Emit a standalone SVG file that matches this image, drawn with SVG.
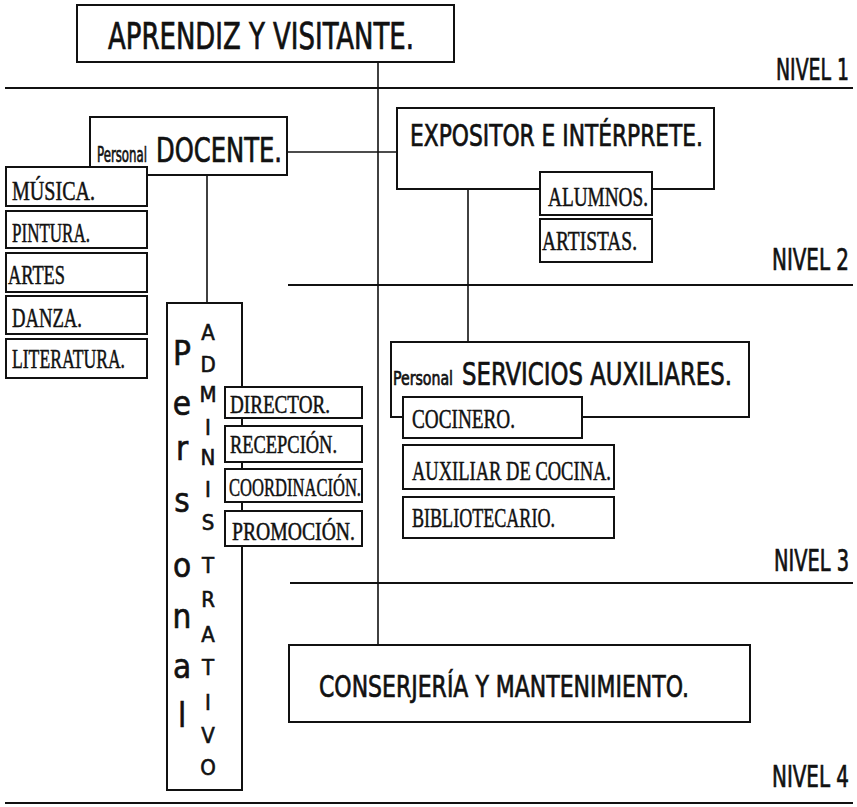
<svg xmlns="http://www.w3.org/2000/svg" width="857" height="807" viewBox="0 0 857 807">
<style>
.bx{fill:#fff;stroke:#111;stroke-width:2}
.ln{stroke:#111;stroke-width:2;fill:none}
.cn{stroke:#111;stroke-width:1.6;fill:none}
.s{font-family:'DejaVu Sans Condensed','DejaVu Sans',sans-serif;fill:#111;stroke:#111;stroke-width:0.7}
.r{font-family:'Liberation Serif',serif;fill:#111;stroke:#111;stroke-width:0.5}
.big{font-family:'DejaVu Sans Condensed','DejaVu Sans',sans-serif;fill:#111;stroke:#111;stroke-width:0.6;font-size:33px;text-anchor:middle}
.sm{font-family:'DejaVu Sans Condensed','DejaVu Sans',sans-serif;fill:#111;stroke:#111;stroke-width:0.6;font-size:22px;text-anchor:middle}
</style>
<rect width="857" height="807" fill="#fff"/>
<g id="levels">
<line class="ln" x1="5" y1="88" x2="853" y2="88"/>
<line class="ln" x1="288" y1="285" x2="853" y2="285"/>
<line class="ln" x1="290" y1="583" x2="853" y2="583"/>
<line class="ln" x1="5" y1="803" x2="853" y2="803"/>
<text class="s" x="776" y="80" font-size="30" textLength="73" lengthAdjust="spacingAndGlyphs">NIVEL 1</text>
<text class="s" x="772" y="270" font-size="30" textLength="77" lengthAdjust="spacingAndGlyphs">NIVEL 2</text>
<text class="s" x="774" y="571" font-size="30" textLength="75" lengthAdjust="spacingAndGlyphs">NIVEL 3</text>
<text class="s" x="772" y="787" font-size="30" textLength="77" lengthAdjust="spacingAndGlyphs">NIVEL 4</text>
</g>
<g id="connectors">
<line class="cn" x1="378" y1="62" x2="378" y2="645"/>
<line class="cn" x1="287" y1="152" x2="397" y2="152"/>
<line class="cn" x1="207" y1="175" x2="207" y2="303"/>
<line class="cn" x1="468" y1="189" x2="468" y2="342"/>
</g>
<g id="aprendiz">
<rect class="bx" x="77" y="5" width="377" height="57"/>
<text class="s" x="108" y="49" font-size="37" textLength="306" lengthAdjust="spacingAndGlyphs">APRENDIZ Y VISITANTE.</text>
</g>
<g id="docente">
<rect class="bx" x="90" y="117" width="197" height="58"/>
<text class="s" x="97" y="162" font-size="22" textLength="50" lengthAdjust="spacingAndGlyphs">Personal</text>
<text class="s" x="156" y="162" font-size="34" textLength="126" lengthAdjust="spacingAndGlyphs">DOCENTE.</text>
</g>
<g id="musica"><rect class="bx" x="6" y="167" width="141" height="39"/><text class="r" x="12" y="200" font-size="27" textLength="83" lengthAdjust="spacingAndGlyphs">MÚSICA.</text></g>
<g id="pintura"><rect class="bx" x="6" y="211" width="141" height="37"/><text class="r" x="12" y="242" font-size="27" textLength="78" lengthAdjust="spacingAndGlyphs">PINTURA.</text></g>
<g id="artes"><rect class="bx" x="6" y="253" width="141" height="39"/><text class="r" x="8" y="284" font-size="27" textLength="57" lengthAdjust="spacingAndGlyphs">ARTES</text></g>
<g id="danza"><rect class="bx" x="6" y="296" width="141" height="38"/><text class="r" x="12" y="327" font-size="27" textLength="70" lengthAdjust="spacingAndGlyphs">DANZA.</text></g>
<g id="literatura"><rect class="bx" x="6" y="339" width="141" height="39"/><text class="r" x="12" y="368" font-size="27" textLength="113" lengthAdjust="spacingAndGlyphs">LITERATURA.</text></g>
<g id="expositor">
<rect class="bx" x="397" y="108" width="317" height="81"/>
<text class="s" x="410" y="146" font-size="31" textLength="293" lengthAdjust="spacingAndGlyphs">EXPOSITOR E INTÉRPRETE.</text>
</g>
<g id="alumnos"><rect class="bx" x="540" y="172" width="112" height="43"/><text class="r" x="548" y="206" font-size="27" textLength="100" lengthAdjust="spacingAndGlyphs">ALUMNOS.</text></g>
<g id="artistas"><rect class="bx" x="540" y="219" width="112" height="43"/><text class="r" x="542" y="250" font-size="27" textLength="95" lengthAdjust="spacingAndGlyphs">ARTISTAS.</text></g>
<g id="administrativo">
<rect class="bx" x="167" y="303" width="75" height="487"/>
<text class="big" x="182" y="365">P</text>
<text class="big" x="182" y="415">e</text>
<text class="big" x="182" y="460">r</text>
<text class="big" x="182" y="512">s</text>
<text class="big" x="182" y="577">o</text>
<text class="big" x="182" y="628">n</text>
<text class="big" x="182" y="678">a</text>
<text class="big" x="182" y="727">l</text>
<text class="sm" x="208" y="340">A</text>
<text class="sm" x="208" y="372">D</text>
<text class="sm" x="208" y="402">M</text>
<text class="sm" x="208" y="435">I</text>
<text class="sm" x="208" y="465">N</text>
<text class="sm" x="208" y="497">I</text>
<text class="sm" x="208" y="530">S</text>
<text class="sm" x="208" y="573">T</text>
<text class="sm" x="208" y="607">R</text>
<text class="sm" x="208" y="642">A</text>
<text class="sm" x="208" y="675">T</text>
<text class="sm" x="208" y="710">I</text>
<text class="sm" x="208" y="743">V</text>
<text class="sm" x="208" y="775">O</text>
</g>
<g id="director"><rect class="bx" x="225" y="387" width="137" height="31"/><text class="r" x="230" y="413" font-size="25" textLength="100" lengthAdjust="spacingAndGlyphs">DIRECTOR.</text></g>
<g id="recepcion"><rect class="bx" x="225" y="426" width="137" height="36"/><text class="r" x="230" y="453" font-size="25" textLength="107" lengthAdjust="spacingAndGlyphs">RECEPCIÓN.</text></g>
<g id="coordinacion"><rect class="bx" x="225" y="469" width="137" height="33"/><text class="r" x="229" y="496" font-size="25" textLength="132" lengthAdjust="spacingAndGlyphs">COORDINACIÓN.</text></g>
<g id="promocion"><rect class="bx" x="225" y="511" width="137" height="35"/><text class="r" x="232" y="540" font-size="25" textLength="123" lengthAdjust="spacingAndGlyphs">PROMOCIÓN.</text></g>
<g id="servicios">
<rect class="bx" x="391" y="342" width="358" height="75"/>
<text class="s" x="393" y="385" font-size="20" textLength="60" lengthAdjust="spacingAndGlyphs">Personal</text>
<text class="s" x="462" y="385" font-size="32" textLength="270" lengthAdjust="spacingAndGlyphs">SERVICIOS AUXILIARES.</text>
</g>
<g id="cocinero"><rect class="bx" x="403" y="397" width="179" height="41"/><text class="r" x="412" y="428" font-size="28" textLength="103" lengthAdjust="spacingAndGlyphs">COCINERO.</text></g>
<g id="auxiliar"><rect class="bx" x="403" y="445" width="211" height="44"/><text class="r" x="412" y="480" font-size="28" textLength="199" lengthAdjust="spacingAndGlyphs">AUXILIAR DE COCINA.</text></g>
<g id="bibliotecario"><rect class="bx" x="403" y="497" width="211" height="41"/><text class="r" x="412" y="527" font-size="28" textLength="143" lengthAdjust="spacingAndGlyphs">BIBLIOTECARIO.</text></g>
<g id="conserjeria">
<rect class="bx" x="289" y="645" width="461" height="77"/>
<text class="s" x="319" y="697" font-size="31" textLength="370" lengthAdjust="spacingAndGlyphs">CONSERJERÍA Y MANTENIMIENTO.</text>
</g>
</svg>
